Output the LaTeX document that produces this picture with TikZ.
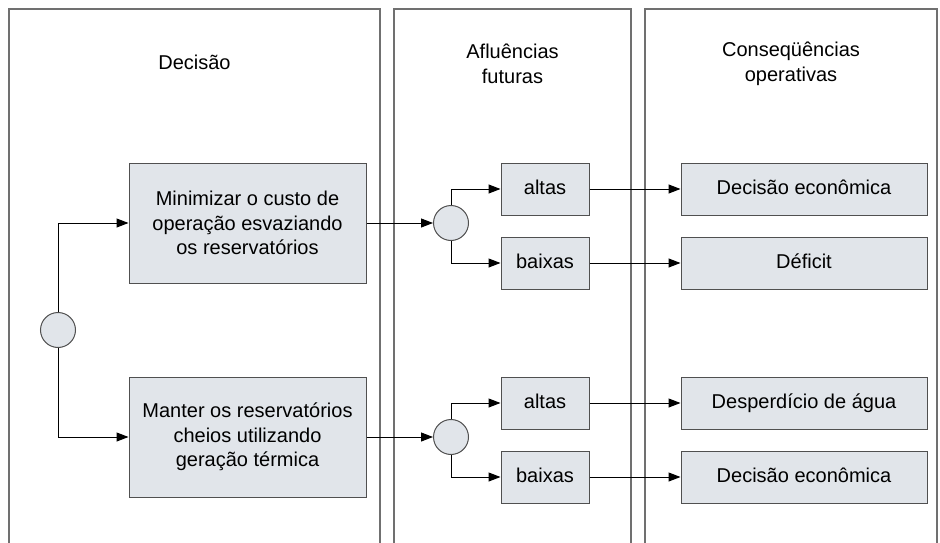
\documentclass[tikz,border=0pt]{standalone}
\usepackage{fontspec}
\setmainfont{Liberation Sans}
\usetikzlibrary{arrows.meta}
\definecolor{boxfill}{HTML}{E1E5EA}
\definecolor{boxline}{HTML}{505050}
\definecolor{panelline}{HTML}{707070}
\begin{document}
\begin{tikzpicture}[x=1pt,y=-1pt,
  txt/.style={font=\fontsize{20}{24.5}\selectfont},
  panel/.style={draw=panelline,line width=1.3pt},
  bigbox/.style={txt,draw=boxline,fill=boxfill,line width=1pt,minimum width=237pt,minimum height=120pt,align=center,inner sep=0pt},
  smallbox/.style={txt,draw=boxline,fill=boxfill,line width=1pt,minimum width=88pt,minimum height=52pt,inner sep=0pt,text height=14.5pt,text depth=3.5pt},
  consbox/.style={txt,draw=boxline,fill=boxfill,line width=1pt,minimum width=246pt,minimum height=52pt,inner sep=0pt,text height=14.5pt,text depth=3.5pt},
  gate/.style={circle,draw=boxline,fill=boxfill,line width=1pt,minimum size=35pt,inner sep=0pt},
  arr/.style={draw=black,line width=1pt,-{Triangle[length=12pt,width=9pt]}},
  head/.style={txt,align=center}]
\useasboundingbox (0,0) rectangle (940,543);
\clip (0,0) rectangle (940,543);
% panels
\draw[panel] (9,9) rectangle (380,600);
\draw[panel] (394,9) rectangle (631,600);
\draw[panel] (645,9) rectangle (937,600);
% headers
\node[head] (h1) at (194.5,62) {Decisão};
\node[head] (h2) at (512.5,64) {Afluências\\futuras};
\node[head] (h3) at (791,64) {Conseqüências\\operativas};
% decision
\node[gate] (c0) at (58,330) {};
\node[bigbox] (dA) at (247.5,223) {Minimizar o custo de\\operação esvaziando\\os reservatórios};
\node[bigbox] (dB) at (247.5,437) {Manter os reservatórios\\cheios utilizando\\geração térmica};
% inflows
\node[gate] (c1) at (451,223) {};
\node[gate] (c2) at (451,437) {};
\node[smallbox] (a1) at (545,189) {altas};
\node[smallbox] (b1) at (545,263) {baixas};
\node[smallbox] (a2) at (545,403) {altas};
\node[smallbox] (b2) at (545,477) {baixas};
% consequences
\node[consbox] (r1) at (804,189) {Decisão econômica};
\node[consbox] (r2) at (804,263) {Déficit};
\node[consbox] (r3) at (804,403) {Desperdício de água};
\node[consbox] (r4) at (804,477) {Decisão econômica};
% connectors
\draw[arr] (c0.north) |- (dA.west);
\draw[arr] (c0.south) |- (dB.west);
\draw[arr] (dA.east) -- (c1.west);
\draw[arr] (dB.east) -- (c2.west);
\draw[arr] (c1.north) |- (a1.west);
\draw[arr] (c1.south) |- (b1.west);
\draw[arr] (c2.north) |- (a2.west);
\draw[arr] (c2.south) |- (b2.west);
\draw[arr] (a1.east) -- (r1.west);
\draw[arr] (b1.east) -- (r2.west);
\draw[arr] (a2.east) -- (r3.west);
\draw[arr] (b2.east) -- (r4.west);
\end{tikzpicture}
\end{document}
